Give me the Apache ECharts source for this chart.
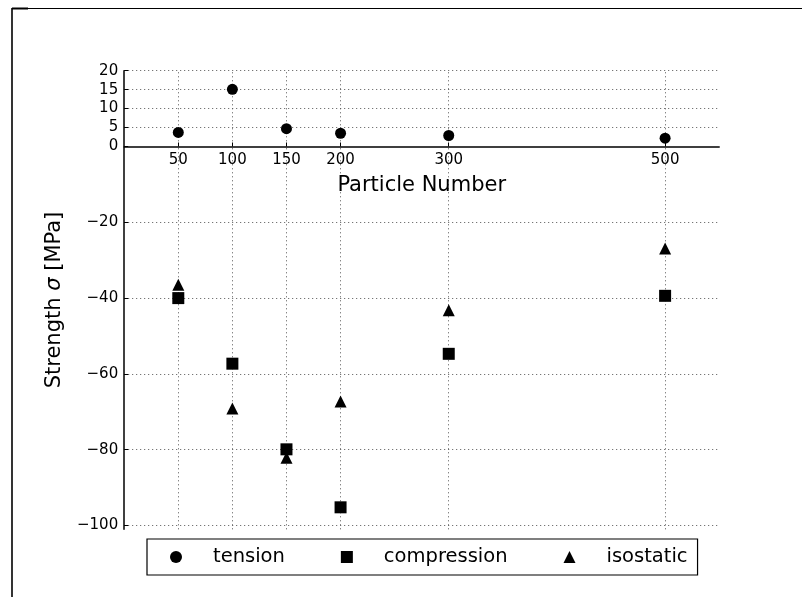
<!DOCTYPE html>
<html>
<head>
<meta charset="utf-8">
<script src="https://cdn.jsdelivr.net/npm/echarts@6/dist/echarts.min.js"></script>
<style>
  html, body { margin: 0; padding: 0; background: #fff; }
  #chart { width: 802px; height: 597px; }
</style>
</head>
<body>
<div id="chart"></div>
<script>
// Strength of packed particle assemblies versus number of particles
const particleNumbers = [50, 100, 150, 200, 300, 500];
const tension = [3.7, 15.1, 4.7, 3.5, 2.9, 2.2];
const compression = [-40.0, -57.3, -79.9, -95.2, -54.7, -39.4];
const isostatic = [-36.5, -69.1, -82.1, -67.3, -43.2, -26.9];

const xTicks = [50, 100, 150, 200, 300, 500];
const yTicks = [-100, -80, -60, -40, -20, 0, 5, 10, 15, 20];

const FONT = 'DejaVu Sans';
const Y_MIN = -101, Y_MAX = 20;
const GRID = { left: 124.2, top: 70.7, width: 595, height: 458.6 };

const pairs = ys => particleNumbers.map((x, i) => [x, ys[i]]);
const minusFmt = v => (v < 0 ? '\u2212' + Math.abs(v) : String(v));

// the x axis sits on the y = 0 line: shift it up from the grid bottom
const xAxisOffset = -GRID.height * (0 - Y_MIN) / (Y_MAX - Y_MIN);

const gridStyle = { color: '#555', width: 1, type: [1, 3] };

const chart = echarts.init(document.getElementById('chart'), null, { renderer: 'canvas' });

chart.setOption({
  backgroundColor: '#fff',
  animation: false,
  textStyle: { fontFamily: FONT, color: '#000' },
  grid: Object.assign({ containLabel: false }, GRID),
  xAxis: {
    type: 'value',
    min: 0,
    max: 550,
    offset: xAxisOffset,
    name: 'Particle Number',
    nameLocation: 'middle',
    nameGap: 29,
    nameTextStyle: { fontFamily: FONT, fontSize: 21, color: '#000' },
    axisLine: { show: true, onZero: false, lineStyle: { color: '#000', width: 1.5 } },
    axisTick: { show: true, inside: true, length: 4, customValues: xTicks, lineStyle: { color: '#000' } },
    axisLabel: { customValues: xTicks, margin: 6, fontFamily: FONT, fontSize: 15, color: '#000' },
    splitLine: { show: false }
  },
  yAxis: {
    type: 'value',
    min: Y_MIN,
    max: Y_MAX,
    name: '{a|Strength }{s|σ}{a| [MPa]}',
    nameLocation: 'middle',
    nameRotate: 90,
    nameGap: 59,
    nameTextStyle: {
      fontFamily: FONT, fontSize: 21, color: '#000',
      rich: {
        a: { fontFamily: FONT, fontSize: 21, color: '#000' },
        s: { fontFamily: FONT, fontSize: 21, fontStyle: 'italic', color: '#000' }
      }
    },
    axisLine: { show: true, onZero: false, lineStyle: { color: '#000', width: 1.5 } },
    axisTick: { show: true, inside: true, length: 4, customValues: yTicks, lineStyle: { color: '#000' } },
    axisLabel: { customValues: yTicks, margin: 6, fontFamily: FONT, fontSize: 15, color: '#000', formatter: minusFmt },
    splitLine: { show: false }
  },
  legend: {
    left: 147,
    top: 539,
    orient: 'horizontal',
    itemWidth: 12,
    itemHeight: 12,
    itemGap: 56,
    padding: [8, 10, 8, 23],
    borderColor: '#000',
    borderWidth: 1.2,
    backgroundColor: '#fff',
    itemStyle: { opacity: 1 },
    textStyle: { fontFamily: FONT, fontSize: 19.5, color: '#000', padding: [0, 0, 0, 26] },
    data: [
      { name: 'tension', icon: 'circle' },
      { name: 'compression', icon: 'rect' },
      { name: 'isostatic', icon: 'triangle' }
    ]
  },
  graphic: [
    { type: 'line', shape: { x1: 12, y1: 8.5, x2: 802, y2: 8.5 }, style: { stroke: '#000', lineWidth: 1.2 } },
    { type: 'line', shape: { x1: 12, y1: 8, x2: 12, y2: 597 }, style: { stroke: '#000', lineWidth: 1.6 } },
    { type: 'line', shape: { x1: 12, y1: 8.5, x2: 28, y2: 8.5 }, style: { stroke: '#000', lineWidth: 2 } }
  ],
  series: [
    {
      // dotted reference grid at the tick positions, kept beneath the markers
      type: 'line',
      name: 'grid',
      data: [],
      z: 0,
      silent: true,
      markLine: {
        z: 0,
        silent: true,
        symbol: 'none',
        label: { show: false },
        lineStyle: gridStyle,
        animation: false,
        data: [
          ...yTicks.filter(v => v !== 0).map(v => ({ yAxis: v })),
          ...xTicks.map(v => ({ xAxis: v }))
        ]
      }
    },
    {
      name: 'tension',
      type: 'scatter',
      symbol: 'circle',
      symbolSize: 11,
      z: 6,
      itemStyle: { color: '#000', opacity: 1 },
      data: pairs(tension)
    },
    {
      name: 'compression',
      type: 'scatter',
      symbol: 'rect',
      symbolSize: 12,
      z: 6,
      itemStyle: { color: '#000', opacity: 1 },
      data: pairs(compression)
    },
    {
      name: 'isostatic',
      type: 'scatter',
      symbol: 'triangle',
      symbolSize: 12,
      z: 6,
      itemStyle: { color: '#000', opacity: 1 },
      data: pairs(isostatic)
    }
  ]
});
</script>
</body>
</html>
